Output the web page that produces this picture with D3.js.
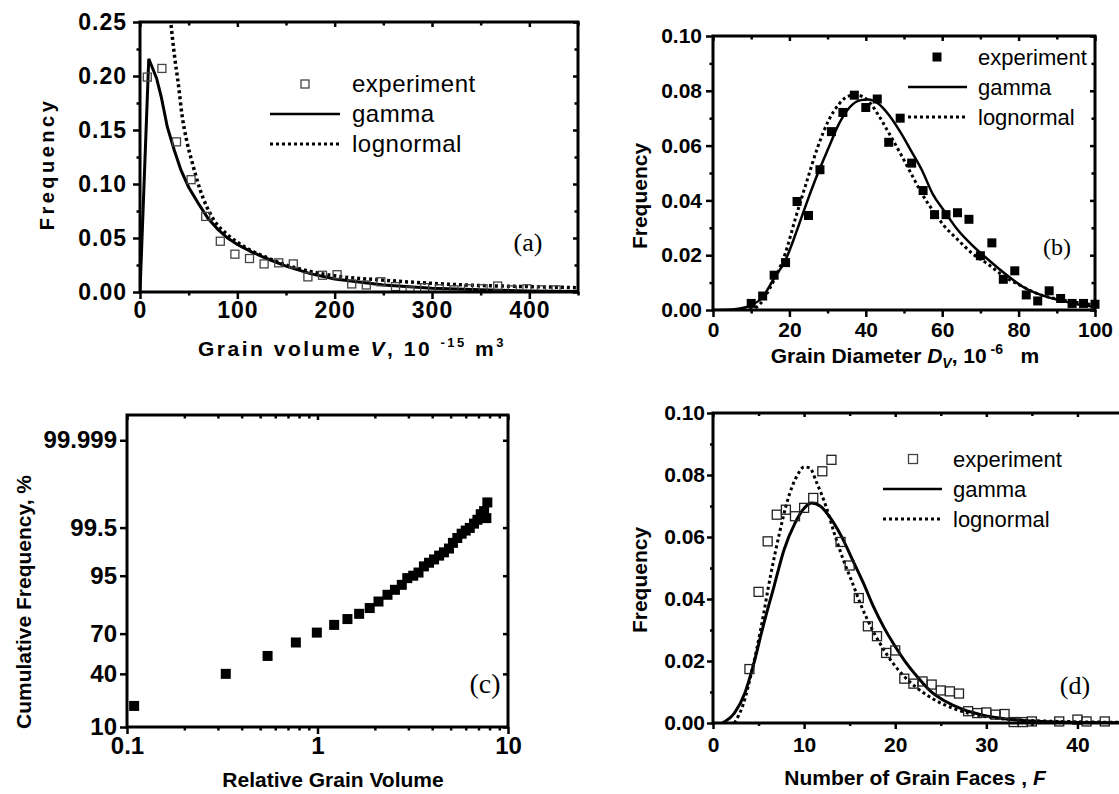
<!DOCTYPE html>
<html>
<head>
<meta charset="utf-8">
<script src="https://cdn.jsdelivr.net/npm/d3@7"></script>
<style>
  body { margin: 0; background: #fff; }
  svg { display: block; }
  text { font-family: "Liberation Sans", Arial, sans-serif; fill: #000; }
  .panel-tag { font-family: "Liberation Serif", "Times New Roman", serif; }
</style>
</head>
<body>
<svg id="chart" width="1119" height="794"></svg>
<script>
// ---------- data ----------

// (a) grain volume distribution
const volumeBins = [7.5, 22.5, 37.5, 52.5, 67.5, 82.5, 97.5, 112.5, 127.5, 142.5, 157.5, 172.5, 187.5, 202.5, 217.5,
  232.5, 247.5, 262.5, 277.5, 292.5, 307.5, 322.5, 337.5, 352.5, 367.5, 382.5, 397.5, 412.5, 427.5];
const volumeFreq = [0.199, 0.207, 0.139, 0.104, 0.070, 0.047, 0.035, 0.031, 0.026, 0.027, 0.026, 0.014, 0.0155, 0.016, 0.0075,
  0.0065, 0.0095, 0.005, 0.001, 0.004, 0.003, 0.002, 0.003, 0.003, 0.0055, 0.002, 0.003, 0.002, 0.002];
const volumeGammaX = [0, 9, 13, 17, 22, 28, 35, 42, 50, 60, 70, 80, 90, 100, 115, 130, 150, 175, 200, 250, 300, 350, 400, 450];
const volumeGammaY = [0, 0.216, 0.207, 0.198, 0.180, 0.153, 0.132, 0.113, 0.097, 0.082, 0.068, 0.058, 0.050, 0.044, 0.037,
  0.031, 0.024, 0.017, 0.012, 0.0065, 0.0035, 0.002, 0.001, 0.0005];
const volumeLogX = [29, 31.6, 35, 40, 43, 48, 53, 62, 75, 90, 100, 115, 130, 150, 175, 200, 250, 300, 350, 400, 450];
const volumeLogY = [0.275, 0.25, 0.222, 0.188, 0.165, 0.140, 0.122, 0.094, 0.068, 0.053, 0.046, 0.038, 0.032, 0.025, 0.019,
  0.015, 0.011, 0.008, 0.006, 0.005, 0.004];

// (b) grain diameter distribution
const diameterBins = [10, 13, 16, 19, 22, 25, 28, 31, 34, 37, 40, 43, 46, 49, 52, 55, 58, 61, 64, 67, 70, 73, 76, 79, 82,
  85, 88, 91, 94, 97, 100];
const diameterFreq = [0.0024, 0.0051, 0.0127, 0.0173, 0.0396, 0.0345, 0.0512, 0.0651, 0.0721, 0.0784, 0.0739, 0.0770,
  0.0612, 0.0700, 0.0536, 0.0436, 0.0348, 0.0348, 0.0355, 0.0331, 0.0198, 0.0245, 0.0112, 0.0143, 0.0055, 0.0033, 0.0070,
  0.0042, 0.0024, 0.0024, 0.0021];
const diameterGammaX = [0, 5, 8, 10, 12.7, 16, 18.9, 21.7, 24.5, 27.4, 30.2, 33, 35.8, 38.7, 40.6, 43.4, 46.2, 49.1, 51.9,
  54.7, 57.5, 60.4, 64.2, 67.9, 71.7, 76.4, 81.1, 85.8, 90.6, 95.3, 100];
const diameterGammaY = [0, 0.0002, 0.0008, 0.0018, 0.0042, 0.0116, 0.018, 0.028, 0.039, 0.0497, 0.059, 0.068, 0.074, 0.0766,
  0.0768, 0.0752, 0.0709, 0.0648, 0.058, 0.051, 0.0424, 0.0364, 0.029, 0.0236, 0.0188, 0.0133, 0.0085, 0.0055, 0.0036,
  0.0021, 0.0012];
const diameterLogX = [8, 11.3, 15.1, 18.9, 21.7, 24.5, 27.4, 30.2, 33, 35.8, 37.7, 40.6, 43.4, 46.2, 49.1, 51.9, 54.7, 57.5,
  60.4, 64.2, 67.9, 71.7, 76.4, 81.1, 85.8, 90.6, 95.3, 100];
const diameterLogY = [0, 0.001, 0.0085, 0.0206, 0.034, 0.0467, 0.0594, 0.069, 0.0752, 0.0782, 0.0784, 0.0764, 0.0709, 0.0642,
  0.057, 0.0497, 0.0424, 0.0364, 0.0309, 0.0255, 0.0206, 0.017, 0.0121, 0.0085, 0.0055, 0.0039, 0.0027, 0.0018];

// (c) cumulative frequency of relative grain volume (percent)
const relVolume = [0.109, 0.330, 0.547, 0.770, 0.992, 1.223, 1.436, 1.654, 1.88, 2.09, 2.33, 2.55, 2.77, 2.96, 3.18, 3.39,
  3.62, 3.85, 4.09, 4.35, 4.61, 4.90, 5.14, 5.42, 5.71, 6.0, 6.3, 6.63, 6.91, 7.19, 7.49, 7.7, 7.79];
const cumPercent = [19.1, 40.0, 53.7, 63.8, 70.7, 75.6, 79.0, 81.8, 84.6, 87.4, 89.9, 91.5, 92.9, 94.5, 95.0, 95.6, 96.6,
  97.1, 97.5, 97.9, 98.2, 98.5, 98.87, 99.12, 99.3, 99.41, 99.49, 99.6, 99.68, 99.77, 99.81, 99.71, 99.89];
const cumTicks = [10, 40, 70, 95, 99.5, 99.999];
const cumTickLabels = ['10', '40', '70', '95', '99.5', '99.999'];

// (d) number of grain faces
const facesBins = [4, 5, 6, 7, 8, 9, 10, 11, 12, 13, 14, 15, 16, 17, 18, 19, 20, 21, 22, 23, 24, 25, 26, 27, 28, 29, 30, 31,
  32, 33, 34, 35, 38, 40, 41, 43];
const facesFreq = [0.0174, 0.0423, 0.0586, 0.0672, 0.0688, 0.0667, 0.0694, 0.0726, 0.0812, 0.0849, 0.0584, 0.0508, 0.0403,
  0.0312, 0.028, 0.0226, 0.0234, 0.0143, 0.0127, 0.0134, 0.0124, 0.0105, 0.0102, 0.0095, 0.0038, 0.0032, 0.0034, 0.0027,
  0.0029, 0.0003, 0.0003, 0.0005, 0.0005, 0.0011, 0.0005, 0.0005];
const facesGammaX = [1, 2.35, 3.5, 4.5, 5.5, 6.7, 7.8, 9.0, 10.2, 10.8, 11.8, 12.9, 14.1, 15.3, 16.5, 17.6, 18.8, 20.0, 21.2,
  22.4, 23.9, 25.5, 27.5, 29.4, 32.2, 36.1, 40, 45];
const facesGammaY = [0, 0.0032, 0.0097, 0.0194, 0.0312, 0.0441, 0.0559, 0.0645, 0.0699, 0.071, 0.0699, 0.0661, 0.0602, 0.0527,
  0.0452, 0.0376, 0.0306, 0.0247, 0.0194, 0.015, 0.0102, 0.007, 0.0043, 0.0027, 0.0013, 0.0005, 0.0002, 0.0001];
const facesLogX = [2.35, 3.3, 4.3, 5.3, 6.3, 7.3, 8.2, 9.2, 10.0, 10.6, 11.4, 12.4, 13.3, 14.3, 15.3, 16.3, 17.3, 18.4, 19.6,
  20.8, 22.4, 24.3, 26.3, 28.2, 31.0, 34.9, 40, 45];
const facesLogY = [0, 0.0059, 0.0172, 0.0312, 0.0473, 0.0613, 0.072, 0.0796, 0.0826, 0.0823, 0.0774, 0.0699, 0.0613, 0.0527,
  0.0452, 0.0376, 0.0312, 0.0253, 0.0199, 0.0156, 0.0113, 0.0075, 0.0048, 0.003, 0.0016, 0.0008, 0.0004, 0.0002];

const legendLabels = ['experiment', 'gamma', 'lognormal'];

// ---------- helpers ----------
const svg = d3.select('#chart');
const zip = (xs, ys) => xs.map((x, i) => [x, ys[i]]);

// inverse of the standard normal CDF (Acklam), used for the probability axis
function probit(p) {
  const a = [-39.69683028665376, 220.9460984245205, -275.9285104469687, 138.3577518672690, -30.66479806614716, 2.506628277459239];
  const b = [-54.47609879822406, 161.5858368580409, -155.6989798598866, 66.80131188771972, -13.28068155288572];
  const c = [-0.007784894002430293, -0.3223964580411365, -2.400758277161838, -2.549732539343734, 4.374664141464968, 2.938163982698783];
  const d = [0.007784695709041462, 0.3224671290700398, 2.445134137142996, 3.754408661907416];
  const lo = 0.02425;
  if (p < lo) {
    const q = Math.sqrt(-2 * Math.log(p));
    return (((((c[0] * q + c[1]) * q + c[2]) * q + c[3]) * q + c[4]) * q + c[5]) / ((((d[0] * q + d[1]) * q + d[2]) * q + d[3]) * q + 1);
  }
  if (p > 1 - lo) {
    const q = Math.sqrt(-2 * Math.log(1 - p));
    return -(((((c[0] * q + c[1]) * q + c[2]) * q + c[3]) * q + c[4]) * q + c[5]) / ((((d[0] * q + d[1]) * q + d[2]) * q + d[3]) * q + 1);
  }
  const q = p - 0.5, r = q * q;
  return (((((a[0] * r + a[1]) * r + a[2]) * r + a[3]) * r + a[4]) * r + a[5]) * q /
    (((((b[0] * r + b[1]) * r + b[2]) * r + b[3]) * r + b[4]) * r + 1);
}

// frame with Origin-style ticks: out on left/bottom, mirrored inward on top/right
function drawAxes(g, x, y, o) {
  const [x0, x1] = x.range();
  const [yb, yt] = y.range();
  const side = (axis, tx, ty) => g.append('g')
    .attr('transform', `translate(${tx},${ty})`)
    .call(axis)
    .call(s => s.select('.domain').remove());

  const bottom = side(d3.axisBottom(x).tickValues(o.xMajor).tickSize(o.tick).tickPadding(o.xPad).tickFormat(o.xFormat), 0, yb);
  side(d3.axisBottom(x).tickValues(o.xMajor).tickSize(o.tick - 2).tickFormat(''), 0, yt);
  if (o.xMinor) {
    side(d3.axisBottom(x).tickValues(o.xMinor).tickSize(o.tick / 2).tickFormat(''), 0, yb);
    side(d3.axisBottom(x).tickValues(o.xMinor).tickSize(o.tick / 2).tickFormat(''), 0, yt);
  }
  const left = side(d3.axisLeft(y).tickValues(o.yMajor).tickSize(o.tick).tickPadding(o.yPad).tickFormat(o.yFormat), x0, 0);
  side(d3.axisLeft(y).tickValues(o.yMajor).tickSize(o.tick - 2).tickFormat(''), x1, 0);
  if (o.yMinor) {
    side(d3.axisLeft(y).tickValues(o.yMinor).tickSize(o.tick / 2).tickFormat(''), x0, 0);
    side(d3.axisLeft(y).tickValues(o.yMinor).tickSize(o.tick / 2).tickFormat(''), x1, 0);
  }

  g.selectAll('.tick line').attr('stroke', '#000').attr('stroke-width', 2.5);
  [bottom, left].forEach(a => a
    .attr('font-family', null)
    .attr('font-size', null)
    .selectAll('text')
    .style('font-size', o.labelSize + 'px')
    .style('font-weight', 'bold')
    .style('letter-spacing', (o.labelSpacing || 0) + 'px'));

  g.append('rect')
    .attr('x', x0).attr('y', yt)
    .attr('width', x1 - x0).attr('height', yb - yt)
    .attr('fill', 'none')
    .attr('stroke', '#000')
    .attr('stroke-width', 3);
}

function clipFor(id, x, y) {
  const [x0, x1] = x.range();
  const [yb, yt] = y.range();
  svg.append('defs').append('clipPath').attr('id', id)
    .append('rect').attr('x', x0).attr('y', yt).attr('width', x1 - x0).attr('height', yb - yt);
  return `url(#${id})`;
}

function drawCurve(g, x, y, pts, dotted, width) {
  g.append('path')
    .datum(pts)
    .attr('fill', 'none')
    .attr('stroke', '#000')
    .attr('stroke-width', width)
    .attr('stroke-dasharray', dotted ? '3,3' : null)
    .attr('d', d3.line().x(d => x(d[0])).y(d => y(d[1])).curve(d3.curveMonotoneX));
}

function drawSquares(g, x, y, pts, size, filled, stroke) {
  g.selectAll(null)
    .data(pts)
    .join('rect')
    .attr('x', d => x(d[0]) - size / 2)
    .attr('y', d => y(d[1]) - size / 2)
    .attr('width', size).attr('height', size)
    .attr('fill', filled ? '#000' : 'none')
    .attr('stroke', filled ? 'none' : stroke)
    .attr('stroke-width', 1.3);
}

function drawLegend(g, o) {
  const rows = [o.y0, o.y0 + o.dy, o.y0 + 2 * o.dy];
  const sq = o.size;
  g.append('rect')
    .attr('x', o.markX - sq / 2).attr('y', rows[0] - sq / 2)
    .attr('width', sq).attr('height', sq)
    .attr('fill', o.filled ? '#000' : 'none')
    .attr('stroke', o.filled ? 'none' : '#444')
    .attr('stroke-width', 1.3);
  g.append('line').attr('x1', o.lineX0).attr('x2', o.lineX1).attr('y1', rows[1]).attr('y2', rows[1])
    .attr('stroke', '#000').attr('stroke-width', 2.5);
  g.append('line').attr('x1', o.lineX0).attr('x2', o.lineX1).attr('y1', rows[2]).attr('y2', rows[2])
    .attr('stroke', '#000').attr('stroke-width', 3).attr('stroke-dasharray', '3,3');
  legendLabels.forEach((t, i) => g.append('text')
    .attr('x', o.textX).attr('y', rows[i])
    .attr('dy', '0.35em')
    .style('font-size', o.fontSize + 'px')
    .style('letter-spacing', (o.spacing || 0) + 'px')
    .text(t));
}

function axisTitle(g, x, y, size, rotate, spacing) {
  return g.append('text')
    .attr('transform', `translate(${x},${y})` + (rotate ? ' rotate(-90)' : ''))
    .attr('text-anchor', 'middle')
    .attr('dy', '0.35em')
    .style('font-size', size + 'px')
    .style('font-weight', 'bold')
    .style('letter-spacing', (spacing || 0) + 'px');
}

function panelTag(g, x, y, size, label) {
  g.append('text').attr('class', 'panel-tag')
    .attr('x', x).attr('y', y).attr('dy', '0.35em')
    .attr('text-anchor', 'middle')
    .style('font-size', size + 'px')
    .text(label);
}

const fmt2 = d3.format('.2f');

// ---------- (a) ----------
{
  const g = svg.append('g');
  const x = d3.scaleLinear().domain([0, 450]).range([140, 578]);
  const y = d3.scaleLinear().domain([0, 0.25]).range([292, 22]);
  const plot = g.append('g').attr('clip-path', clipFor('clip-a', x, y));
  drawCurve(plot, x, y, zip(volumeLogX, volumeLogY), true, 3.5);
  plot.append('path')
    .datum(zip(volumeGammaX, volumeGammaY))
    .attr('fill', 'none').attr('stroke', '#000').attr('stroke-width', 3)
    .attr('d', d3.line().x(d => x(d[0])).y(d => y(d[1])));
  drawSquares(plot, x, y, zip(volumeBins, volumeFreq), 8, false, '#444');
  drawAxes(g, x, y, {
    xMajor: [0, 100, 200, 300, 400], xMinor: [50, 150, 250, 350, 450],
    yMajor: [0, 0.05, 0.10, 0.15, 0.20, 0.25], yMinor: [0.025, 0.075, 0.125, 0.175, 0.225],
    xFormat: d3.format('d'), yFormat: fmt2, tick: 7, xPad: 3, yPad: 6, labelSize: 23, labelSpacing: 1
  });
  drawLegend(g, { markX: 305, lineX0: 270, lineX1: 340, textX: 352, y0: 84, dy: 30, size: 8,
    filled: false, fontSize: 24, spacing: 0.5 });
  panelTag(g, 528, 242, 26, '(a)');
  axisTitle(g, 47, 164, 20, true, 3.5).text('Frequency');
  const t = axisTitle(g, 352, 349, 21, false, 2.5);
  t.append('tspan').text('Grain volume ');
  t.append('tspan').style('font-style', 'italic').text('V');
  t.append('tspan').text(', 10 ');
  t.append('tspan').attr('dy', -9).style('font-size', '13px').text('-15');
  t.append('tspan').attr('dy', 9).text(' m');
  t.append('tspan').attr('dy', -9).style('font-size', '13px').text('3');
}

// ---------- (b) ----------
{
  const g = svg.append('g');
  const x = d3.scaleLinear().domain([0, 100]).range([713, 1095]);
  const y = d3.scaleLinear().domain([0, 0.10]).range([310, 36]);
  const plot = g.append('g').attr('clip-path', clipFor('clip-b', x, y));
  drawCurve(plot, x, y, zip(diameterLogX, diameterLogY), true, 3);
  drawCurve(plot, x, y, zip(diameterGammaX, diameterGammaY), false, 2.5);
  drawSquares(g, x, y, zip(diameterBins, diameterFreq), 9, true);
  drawAxes(g, x, y, {
    xMajor: [0, 20, 40, 60, 80, 100], xMinor: [10, 30, 50, 70, 90],
    yMajor: [0, 0.02, 0.04, 0.06, 0.08, 0.10], yMinor: [0.01, 0.03, 0.05, 0.07, 0.09],
    xFormat: d3.format('d'), yFormat: fmt2, tick: 7, xPad: 5, yPad: 4, labelSize: 21
  });
  drawLegend(g, { markX: 937, lineX0: 908, lineX1: 967, textX: 978, y0: 57, dy: 30, size: 9,
    filled: true, fontSize: 22 });
  panelTag(g, 1057, 247, 24, '(b)');
  axisTitle(g, 640, 196, 21, true).text('Frequency');
  const t = axisTitle(g, 905, 356, 21, false);
  t.append('tspan').text('Grain Diameter ');
  t.append('tspan').style('font-style', 'italic').text('D');
  t.append('tspan').attr('dy', 5).style('font-style', 'italic').style('font-size', '14px').text('V');
  t.append('tspan').attr('dy', -5).text(', 10');
  t.append('tspan').attr('dy', -9).style('font-size', '14px').text(' -6');
  t.append('tspan').attr('dy', 9).text('\u00a0\u00a0 m');
}

// ---------- (c) ----------
{
  const g = svg.append('g');
  const x = d3.scaleLog().domain([0.1, 10]).range([127, 508]);
  const y = d3.scaleLinear().domain([probit(0.10), probit(0.999999)]).range([727, 415]);
  const py = v => probit(v / 100);
  const minors = [0.2, 0.3, 0.4, 0.5, 0.6, 0.7, 0.8, 0.9, 2, 3, 4, 5, 6, 7, 8, 9];
  g.selectAll(null)
    .data(zip(relVolume, cumPercent))
    .join('rect')
    .attr('x', d => x(d[0]) - 5)
    .attr('y', d => y(py(d[1])) - 5)
    .attr('width', 10).attr('height', 10)
    .attr('fill', '#000');
  drawAxes(g, x, y, {
    xMajor: [0.1, 1, 10], xMinor: minors,
    yMajor: cumTicks.map(py),
    xFormat: d => (d < 1 ? d3.format('.1f')(d) : d3.format('d')(d)),
    yFormat: (d, i) => cumTickLabels[i],
    tick: 7, xPad: 3, yPad: 3, labelSize: 24
  });
  panelTag(g, 485, 683, 28, '(c)');
  axisTitle(g, 24, 602, 21, true).text('Cumulative Frequency, %');
  axisTitle(g, 333, 780, 21, false).text('Relative Grain Volume');
}

// ---------- (d) ----------
{
  const g = svg.append('g');
  const x = d3.scaleLinear().domain([0, 45]).range([713, 1123]);
  const y = d3.scaleLinear().domain([0, 0.10]).range([723, 413]);
  const plot = g.append('g').attr('clip-path', clipFor('clip-d', x, y));
  drawCurve(plot, x, y, zip(facesLogX, facesLogY), true, 3);
  drawCurve(plot, x, y, zip(facesGammaX, facesGammaY), false, 3);
  drawSquares(g, x, y, zip(facesBins, facesFreq), 9, false, '#222');
  drawAxes(g, x, y, {
    xMajor: [0, 10, 20, 30, 40], xMinor: [5, 15, 25, 35, 45],
    yMajor: [0, 0.02, 0.04, 0.06, 0.08, 0.10], yMinor: [0.01, 0.03, 0.05, 0.07, 0.09],
    xFormat: d3.format('d'), yFormat: fmt2, tick: 6, xPad: 8, yPad: 2, labelSize: 21
  });
  drawLegend(g, { markX: 913, lineX0: 883, lineX1: 942, textX: 953, y0: 459, dy: 30, size: 9,
    filled: false, fontSize: 22 });
  panelTag(g, 1075, 685, 26, '(d)');
  axisTitle(g, 640, 580, 21, true).text('Frequency');
  const t = axisTitle(g, 915, 778, 21, false);
  t.append('tspan').text('Number of Grain Faces , ');
  t.append('tspan').style('font-style', 'italic').text('F');
}
</script>
</body>
</html>
